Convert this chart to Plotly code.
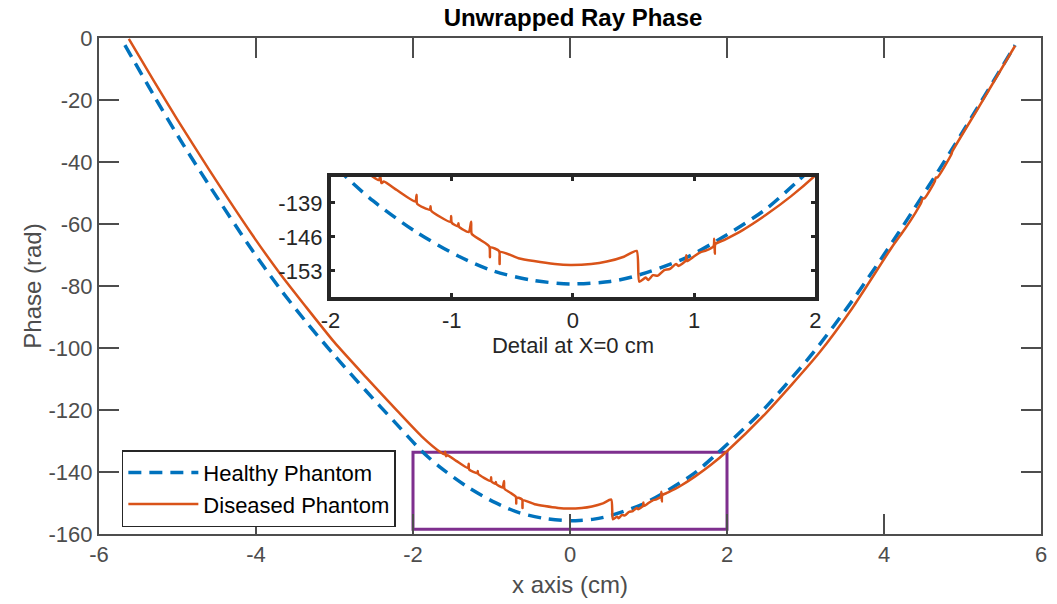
import plotly.graph_objects as go

# ---------------- data ----------------
healthy_x = [-5.67, -5.3, -5.0, -4.6, -4.05, -3.7, -3.38, -3.0, -2.6, -2.2, -1.89, -1.648,
             -1.306, -0.951, -0.65, -0.322, -0.022, 0.306, 0.497, 0.907, 1.235, 1.59, 1.863,
             2.2, 2.5, 3.085, 3.6, 4.181, 4.9, 5.67]
healthy_y = [-2.3, -18.6, -31.4, -47.4, -68.4, -80.7, -91.0, -102.4, -113.8, -124.8, -133.2, -138.6,
             -144.8, -149.9, -153.1, -155.0, -155.7, -155.2, -154.2, -150.6, -146.1, -140.3, -134.3,
             -126.4, -118.9, -101.9, -84.6, -63.0, -34.5, -2.3]

diseased_x = [-5.62, -5.3, -5.0, -4.6, -4.05, -3.7, -3.38, -3.0, -2.6, -2.2, -1.89, -1.648,
              -1.6, -1.59, -1.58, -1.56, -1.45,
              -1.30, -1.29, -1.285, -1.18, -1.175, -1.17,
              -1.01, -1.005, -1.0, -0.95, -0.945, -0.94,
              -0.86, -0.84, -0.835, -0.76,
              -0.69, -0.685, -0.68, -0.61, -0.605, -0.60,
              -0.45, -0.322, -0.15, -0.022, 0.15, 0.279, 0.42, 0.525, 0.547,
              0.6, 0.62, 0.66, 0.7, 0.75, 0.8, 0.85, 0.87, 0.93, 0.935, 0.94,
              1.0, 1.05, 1.1, 1.16, 1.165, 1.17, 1.175, 1.25, 1.4, 1.59, 1.8, 2.0,
              2.5, 3.17, 3.6, 4.1, 4.266, 4.4, 4.476, 4.49, 4.52, 4.646, 4.66, 4.68,
              4.857, 4.87, 5.2, 5.67]
diseased_y = [-0.3, -13.9, -26.4, -42.4, -63.4, -75.8, -86.2, -98.2, -109.4, -120.3, -128.5, -133.65,
              -134.3, -133.5, -134.9, -134.6, -136.4,
              -138.7, -137.3, -139.2, -140.4, -139.7, -140.6,
              -142.9, -141.7, -143.1, -143.8, -143.2, -143.9,
              -145.0, -142.9, -145.4, -146.7,
              -148.0, -150.2, -148.2, -148.9, -151.6, -149.1,
              -150.4, -151.0, -151.6, -151.8, -151.6, -151.1, -150.1, -148.9, -155.25,
              -154.4, -154.9, -153.9, -154.0, -152.9, -152.6, -151.6, -152.0, -150.9, -149.8, -151.0,
              -150.0, -149.2, -148.8, -147.9, -146.4, -149.5, -147.5, -146.6, -144.6, -141.5, -137.6, -133.3,
              -120.9, -101.7, -87.0, -67.5, -61.6, -56.4, -53.0, -51.9, -51.6, -46.3, -45.0, -45.0,
              -37.6, -36.6, -22.6, -2.5]

series_names = ["Healthy Phantom", "Diseased Phantom"]

main_x_range = [-6, 6]
main_y_range = [-160, 0]
main_x_ticks = [-6, -4, -2, 0, 2, 4, 6]
main_x_labels = ["-6", "-4", "-2", "0", "2", "4", "6"]
main_y_ticks = [0, -20, -40, -60, -80, -100, -120, -140, -160]
main_y_labels = ["0", "-20", "-40", "-60", "-80", "-100", "-120", "-140", "-160"]

inset_x_range = [-2, 2]
inset_y_range = [-158.5, -133.6]
inset_x_ticks = [-2, -1, 0, 1, 2]
inset_x_labels = ["-2", "-1", "0", "1", "2"]
inset_y_ticks = [-139, -146, -153]
inset_y_labels = ["-139", "-146", "-153"]

# ---------------- styling ----------------
BLUE = "#0072BD"
ORANGE = "#D95319"
PURPLE = "#7E2F8E"
AXGRAY = "#4d4d4d"
DARK = "#262626"
FONT = "Liberation Sans, Arial, Helvetica, sans-serif"

W, H = 1057, 604
L, R, T, B = 99, 1047, 38, 535

blue_line = dict(color=BLUE, width=3.5, dash="13px,8px", shape="spline", smoothing=0.8)
orange_line = dict(color=ORANGE, width=2.5, shape="spline", smoothing=0.6)

fig = go.Figure()

# main traces
fig.add_trace(go.Scatter(x=healthy_x, y=healthy_y, mode="lines", name=series_names[0],
                         line=blue_line, xaxis="x", yaxis="y"))
fig.add_trace(go.Scatter(x=diseased_x, y=diseased_y, mode="lines", name=series_names[1],
                         line=orange_line, xaxis="x", yaxis="y"))
# inset traces (same data, zoomed)
fig.add_trace(go.Scatter(x=healthy_x, y=healthy_y, mode="lines", showlegend=False,
                         line=blue_line, xaxis="x2", yaxis="y2"))
fig.add_trace(go.Scatter(x=diseased_x, y=diseased_y, mode="lines", showlegend=False,
                         line=orange_line, xaxis="x2", yaxis="y2"))

# highlight rectangle of the inset region
fig.add_shape(type="rect", xref="x", yref="y",
              x0=inset_x_range[0], x1=inset_x_range[1],
              y0=inset_y_range[0], y1=inset_y_range[1],
              line=dict(color=PURPLE, width=3), layer="below")

# inset domain in paper coords
ix0, ix1, iy0, iy1 = 332, 820, 177, 298
pw, ph = R - L, B - T

fig.update_layout(
    width=W, height=H,
    margin=dict(l=L, r=W - R, t=T, b=H - B, pad=0),
    paper_bgcolor="white", plot_bgcolor="white",
    font=dict(family=FONT, size=22, color=AXGRAY),
    title=dict(text="<b>Unwrapped Ray Phase</b>", font=dict(size=24, color="black"),
               x=(L + R) / 2 / W, xref="container", xanchor="center",
               y=1 - 18 / H, yref="container", yanchor="middle"),
    xaxis=dict(domain=[0, 1], range=main_x_range, tickvals=main_x_ticks, ticktext=main_x_labels,
               showgrid=False, zeroline=False, showline=True, linecolor=AXGRAY, linewidth=2,
               mirror="ticks", ticks="inside", ticklen=20, tickwidth=2, tickcolor=AXGRAY,
               tickfont=dict(size=22, color=AXGRAY),
               title=dict(text="x axis (cm)", font=dict(size=24, color=AXGRAY), standoff=10),
               anchor="y"),
    yaxis=dict(domain=[0, 1], range=main_y_range, tickvals=main_y_ticks, ticktext=main_y_labels,
               showgrid=False, zeroline=False, showline=True, linecolor=AXGRAY, linewidth=2,
               mirror="ticks", ticks="inside", ticklen=20, tickwidth=2, tickcolor=AXGRAY,
               tickfont=dict(size=22, color=AXGRAY),
               title=dict(text="Phase (rad)", font=dict(size=24, color=AXGRAY), standoff=0),
               anchor="x"),
    xaxis2=dict(domain=[(ix0 - L) / pw, (ix1 - L) / pw], range=inset_x_range,
                tickvals=inset_x_ticks, ticktext=inset_x_labels, showgrid=False, zeroline=False,
                showline=True, linecolor=DARK, linewidth=3.5, mirror="ticks",
                ticks="inside", ticklen=5, tickwidth=3, tickcolor=DARK,
                tickfont=dict(size=22, color=DARK),
                title=dict(text="Detail at X=0 cm", font=dict(size=22, color=DARK), standoff=6),
                anchor="y2"),
    yaxis2=dict(domain=[(B - iy1) / ph, (B - iy0) / ph], range=inset_y_range,
                tickvals=inset_y_ticks, ticktext=inset_y_labels, showgrid=False, zeroline=False,
                showline=True, linecolor=DARK, linewidth=3.5, mirror="ticks",
                ticks="inside", ticklen=5, tickwidth=3, tickcolor=DARK,
                tickfont=dict(size=22, color=DARK),
                anchor="x2"),
    legend=dict(x=(122 - L) / pw, y=(B - 451) / ph, xanchor="left", yanchor="top",
                bgcolor="white", bordercolor=DARK, borderwidth=1.5,
                font=dict(size=22, color="black"), tracegroupgap=0,
                itemwidth=70),
    showlegend=True,
)

fig.write_html("out.html")
